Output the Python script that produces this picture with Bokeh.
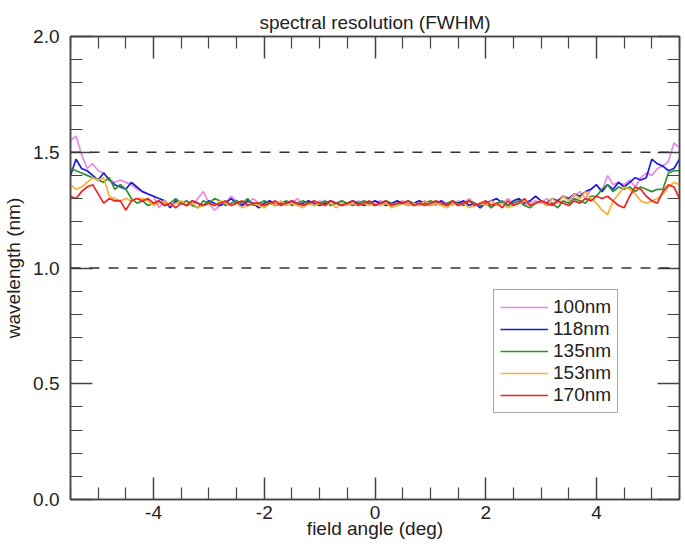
import numpy as np
from bokeh.plotting import figure
from bokeh.models import (Span, Legend, LegendItem, LinearAxis, FixedTicker,
                          CustomJSTickFormatter, Range1d)
from bokeh.embed import file_html
from bokeh.resources import INLINE

# ---------------- data ----------------
field_angle = np.round(np.arange(-5.5, 5.55, 0.1), 1)

fwhm_100nm = [
    1.55, 1.57, 1.49, 1.43, 1.45, 1.42, 1.41, 1.38, 1.37, 1.38,
    1.37, 1.36, 1.34, 1.33, 1.32, 1.31, 1.26, 1.29, 1.27, 1.28,
    1.28, 1.29, 1.27, 1.30, 1.33, 1.28, 1.25, 1.27, 1.28, 1.31,
    1.29, 1.27, 1.28, 1.30, 1.28, 1.27, 1.29, 1.28, 1.27, 1.29,
    1.28, 1.30, 1.27, 1.28, 1.27, 1.29, 1.28, 1.27, 1.28, 1.29,
    1.28, 1.27, 1.29, 1.28, 1.27, 1.28, 1.29, 1.28, 1.27, 1.28,
    1.29, 1.28, 1.27, 1.28, 1.29, 1.28, 1.27, 1.29, 1.28, 1.27,
    1.29, 1.28, 1.30, 1.28, 1.27, 1.28, 1.29, 1.27, 1.28, 1.30,
    1.28, 1.29, 1.27, 1.28, 1.29, 1.28, 1.30, 1.28, 1.29, 1.31,
    1.29, 1.31, 1.33, 1.30, 1.34, 1.36, 1.33, 1.40, 1.36, 1.37,
    1.36, 1.38, 1.35, 1.39, 1.41, 1.40, 1.43, 1.44, 1.46, 1.54,
    1.52]

fwhm_118nm = [
    1.40, 1.47, 1.43, 1.42, 1.40, 1.38, 1.41, 1.38, 1.36, 1.35,
    1.34, 1.37, 1.35, 1.33, 1.32, 1.31, 1.30, 1.29, 1.26, 1.29,
    1.28, 1.27, 1.29, 1.28, 1.27, 1.29, 1.28, 1.27, 1.28, 1.30,
    1.28, 1.27, 1.29, 1.28, 1.26, 1.28, 1.29, 1.27, 1.28, 1.28,
    1.29, 1.27, 1.28, 1.29, 1.28, 1.27, 1.28, 1.29, 1.28, 1.27,
    1.28, 1.29, 1.28, 1.27, 1.28, 1.29, 1.28, 1.27, 1.28, 1.29,
    1.28, 1.27, 1.28, 1.29, 1.28, 1.27, 1.28, 1.29, 1.27, 1.28,
    1.28, 1.29, 1.27, 1.28, 1.26, 1.28, 1.29, 1.30, 1.28, 1.27,
    1.29, 1.30, 1.28, 1.29, 1.31, 1.29, 1.28, 1.30, 1.29, 1.31,
    1.30, 1.32, 1.31, 1.33, 1.34, 1.36, 1.33, 1.36, 1.34, 1.37,
    1.35, 1.37, 1.39, 1.38, 1.39, 1.47, 1.45, 1.44, 1.42, 1.43,
    1.47]

fwhm_135nm = [
    1.43, 1.42, 1.41, 1.40, 1.39, 1.38, 1.37, 1.39, 1.34, 1.36,
    1.34, 1.30, 1.28, 1.29, 1.27, 1.28, 1.29, 1.27, 1.28, 1.30,
    1.28, 1.29, 1.27, 1.26, 1.29, 1.28, 1.30, 1.29, 1.27, 1.28,
    1.29, 1.28, 1.30, 1.27, 1.28, 1.29, 1.28, 1.27, 1.28, 1.29,
    1.27, 1.28, 1.29, 1.28, 1.27, 1.28, 1.29, 1.27, 1.28, 1.29,
    1.28, 1.27, 1.28, 1.29, 1.28, 1.27, 1.28, 1.29, 1.28, 1.27,
    1.28, 1.29, 1.28, 1.27, 1.28, 1.29, 1.28, 1.27, 1.28, 1.29,
    1.28, 1.27, 1.29, 1.28, 1.27, 1.28, 1.26, 1.28, 1.29, 1.27,
    1.28, 1.29, 1.27, 1.26, 1.28, 1.29, 1.27, 1.28, 1.26, 1.29,
    1.28, 1.30, 1.29, 1.28, 1.31, 1.31, 1.34, 1.36, 1.33, 1.35,
    1.34, 1.35, 1.33, 1.35, 1.34, 1.33, 1.34, 1.34, 1.41, 1.42,
    1.42]

fwhm_153nm = [
    1.36, 1.34, 1.35, 1.37, 1.39, 1.38, 1.39, 1.31, 1.30, 1.29,
    1.30, 1.29, 1.30, 1.30, 1.29, 1.27, 1.28, 1.29, 1.27, 1.28,
    1.29, 1.27, 1.28, 1.26, 1.27, 1.28, 1.27, 1.29, 1.28, 1.27,
    1.28, 1.26, 1.27, 1.28, 1.27, 1.26, 1.28, 1.27, 1.29, 1.27,
    1.28, 1.27, 1.26, 1.28, 1.27, 1.28, 1.27, 1.28, 1.26, 1.28,
    1.27, 1.28, 1.27, 1.28, 1.27, 1.28, 1.27, 1.28, 1.26, 1.27,
    1.28, 1.27, 1.28, 1.27, 1.29, 1.27, 1.28, 1.27, 1.26, 1.28,
    1.27, 1.28, 1.26, 1.27, 1.28, 1.27, 1.29, 1.27, 1.28, 1.26,
    1.27, 1.28, 1.29, 1.27, 1.28, 1.29, 1.27, 1.30, 1.28, 1.31,
    1.29, 1.32, 1.30, 1.33, 1.30, 1.28, 1.25, 1.23, 1.29, 1.32,
    1.35, 1.34, 1.32, 1.29, 1.28, 1.29, 1.30, 1.32, 1.35, 1.37,
    1.36]

fwhm_170nm = [
    1.31, 1.30, 1.33, 1.35, 1.36, 1.32, 1.28, 1.30, 1.29, 1.29,
    1.25, 1.29, 1.30, 1.29, 1.30, 1.28, 1.29, 1.27, 1.28, 1.26,
    1.28, 1.27, 1.29, 1.28, 1.27, 1.28, 1.27, 1.28, 1.29, 1.27,
    1.28, 1.29, 1.27, 1.28, 1.28, 1.27, 1.28, 1.29, 1.27, 1.28,
    1.29, 1.28, 1.27, 1.28, 1.29, 1.28, 1.27, 1.29, 1.28, 1.27,
    1.28, 1.29, 1.27, 1.28, 1.29, 1.27, 1.28, 1.29, 1.27, 1.28,
    1.28, 1.29, 1.27, 1.28, 1.27, 1.28, 1.29, 1.28, 1.27, 1.29,
    1.27, 1.28, 1.29, 1.27, 1.28, 1.29, 1.27, 1.28, 1.26, 1.29,
    1.27, 1.28, 1.30, 1.27, 1.28, 1.29, 1.28, 1.27, 1.29, 1.28,
    1.27, 1.29, 1.28, 1.30, 1.29, 1.31, 1.30, 1.31, 1.29, 1.27,
    1.26, 1.31, 1.35, 1.34, 1.31, 1.29, 1.28, 1.33, 1.36, 1.35,
    1.30]

series_labels = ["100nm", "118nm", "135nm", "153nm", "170nm"]
series_values = [fwhm_100nm, fwhm_118nm, fwhm_135nm, fwhm_153nm, fwhm_170nm]
series_colors = ["#e58be8", "#1c1cd8", "#2f922f", "#f8b03a", "#ee2222"]

reference_levels = [1.0, 1.5]

x_major = [-4, -2, 0, 2, 4]
x_minor = [-5.5, -5, -4.5, -3.5, -3, -2.5, -1.5, -1, -0.5,
           0.5, 1, 1.5, 2.5, 3, 3.5, 4.5, 5, 5.5]
y_major = [0.0, 0.5, 1.0, 1.5, 2.0]
y_minor = [0.1, 0.2, 0.3, 0.4, 0.6, 0.7, 0.8, 0.9,
           1.1, 1.2, 1.3, 1.4, 1.6, 1.7, 1.8, 1.9]

FONT = "Liberation Sans"
AXC = "#444444"

p = figure(frame_width=609, frame_height=463,
           output_backend="svg", toolbar_location=None,
           x_range=Range1d(-5.5, 5.5), y_range=Range1d(0.0, 2.0),
           title="spectral resolution (FWHM)",
           x_axis_label="field angle (deg)", y_axis_label="wavelength (nm)",
           min_border_left=64, min_border_right=4, min_border_top=36,
           min_border_bottom=0)

p.title.align = "center"
p.title.text_font = FONT
p.title.text_font_size = "19px"
p.title.text_font_style = "normal"
p.title.text_color = "#222222"
p.title.standoff = 8

p.xgrid.visible = False
p.ygrid.visible = False
p.outline_line_color = AXC
p.outline_line_width = 1.5


def style_axis(ax, major, minor, show_labels, digits=0):
    ax.ticker = FixedTicker(ticks=major, minor_ticks=minor)
    ax.axis_line_color = AXC
    ax.axis_line_width = 1.5
    ax.major_tick_line_color = AXC
    ax.minor_tick_line_color = AXC
    ax.major_tick_line_width = 1.5
    ax.minor_tick_line_width = 1.2
    ax.major_tick_in = 22
    ax.major_tick_out = 0
    ax.minor_tick_in = 12
    ax.minor_tick_out = 0
    ax.axis_label_text_font = FONT
    ax.axis_label_text_font_size = "19px"
    ax.axis_label_text_font_style = "normal"
    ax.axis_label_text_color = "#222222"
    ax.major_label_text_font = FONT
    ax.major_label_text_color = "#222222"
    if show_labels:
        ax.major_label_text_font_size = "19px"
        ax.formatter = CustomJSTickFormatter(
            code="return tick.toFixed(%d)" % digits)
    else:
        ax.major_label_text_font_size = "0px"
        ax.formatter = CustomJSTickFormatter(code="return ''")
        ax.major_label_standoff = 0
        ax.axis_label_standoff = 0


style_axis(p.xaxis[0], x_major, x_minor, True, 0)
style_axis(p.yaxis[0], y_major, y_minor, True, 1)
p.xaxis[0].major_label_standoff = 6
p.xaxis[0].axis_label_standoff = -4
p.yaxis[0].major_label_standoff = 11
p.yaxis[0].axis_label_standoff = 6

top_ax = LinearAxis()
right_ax = LinearAxis()
style_axis(top_ax, x_major, x_minor, False)
style_axis(right_ax, y_major, y_minor, False)
p.add_layout(top_ax, "above")
p.add_layout(right_ax, "right")

for lvl in reference_levels:
    p.add_layout(Span(location=lvl, dimension="width", line_color="#333333",
                      line_width=1.6, line_dash="10 9"))

items = []
for lab, vals, col in zip(series_labels, series_values, series_colors):
    r = p.line(field_angle, vals, line_color=col, line_width=1.7)
    items.append(LegendItem(label=lab, renderers=[r]))

legend = Legend(items=items, location=(423, 86))
legend.label_text_font = FONT
legend.label_text_font_size = "19px"
legend.label_text_color = "#222222"
legend.glyph_width = 48
legend.glyph_height = 20
legend.label_height = 20
legend.label_standoff = 5
legend.spacing = 0
legend.padding = 6
legend.margin = 0
legend.border_line_color = "#555555"
legend.border_line_width = 1.2
legend.background_fill_color = "white"
legend.background_fill_alpha = 1.0
p.add_layout(legend)

open("out.html", "w").write(file_html(p, INLINE))
